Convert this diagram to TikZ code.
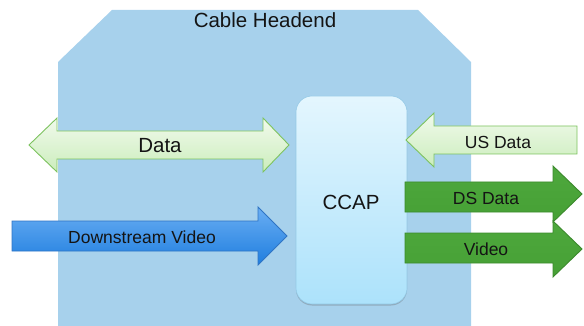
\documentclass[tikz,border=0pt]{standalone}
\usepackage{fontspec}
\setmainfont{Liberation Sans}
\usetikzlibrary{shadows}
\definecolor{headend}{HTML}{A7D1EC}
\definecolor{ccaptop}{HTML}{E4F6FE}
\definecolor{ccapbot}{HTML}{ACE2FB}
\definecolor{ccapline}{HTML}{94C9E6}
\definecolor{ltgreentop}{HTML}{F1FAEC}
\definecolor{ltgreenbot}{HTML}{CBEDBC}
\definecolor{ltgreenline}{HTML}{7DC35F}
\definecolor{dkgreen}{HTML}{4EA83D}
\definecolor{dkgreenbot}{HTML}{46A035}
\definecolor{dkgreenline}{HTML}{3B8A2C}
\definecolor{bluetop}{HTML}{6AAEF3}
\definecolor{bluebot}{HTML}{1F7EDF}
\definecolor{blueline}{HTML}{2F74C4}
\definecolor{txt}{HTML}{141414}
\tikzset{
  lightarrow/.style={draw=ltgreenline, line width=0.9pt, top color=ltgreentop, bottom color=ltgreenbot, line join=miter},
  darkarrow/.style={draw=dkgreenline, line width=0.9pt, top color=dkgreen, bottom color=dkgreenbot, line join=miter},
  bluearrow/.style={draw=blueline, line width=0.9pt, top color=bluetop, bottom color=bluebot, line join=miter},
  label/.style={text=txt, inner sep=0pt, font=\fontsize{17.5}{20}\selectfont},
  biglabel/.style={text=txt, inner sep=0pt, font=\fontsize{20.5}{24}\selectfont},
}
\begin{document}
\begin{tikzpicture}[x=1pt, y=-1pt]
  \useasboundingbox (0,0) rectangle (584,326);
  \begin{scope}
    \clip (0,0) rectangle (584,326);
    % headend enclosure
    \fill[headend] (58,340) -- (58,62) -- (112,10) -- (418,10) -- (471,62) -- (471,340) -- cycle;
  \end{scope}
  \node[text=txt, inner sep=0pt, font=\fontsize{20.5}{24}\selectfont] (headend) at (265,20) {Cable Headend};

  % CCAP block
  \node[draw=ccapline, line width=0.6pt, rounded corners=16pt, top color=ccaptop, bottom color=ccapbot,
        minimum width=111pt, minimum height=208pt, inner sep=0pt,
        drop shadow={shadow xshift=0pt, shadow yshift=-1.5pt, opacity=0.35, fill=black!60}] (ccap) at (351.5,200) {};
  \node[biglabel] (ccaptxt) at (351,202) {CCAP};

  % bidirectional data
  \path[lightarrow] (29,145) -- (57,118) -- (57,131) -- (263,131) -- (263,118) -- (289,145)
        -- (263,172) -- (263,159) -- (57,159) -- (57,172) -- cycle;
  \node[biglabel] (data) at (160,146) {Data};

  % downstream video in
  \path[bluearrow] (12,221) -- (258,221) -- (258,207) -- (287,236) -- (258,265) -- (258,251) -- (12,251) -- cycle;
  \node[label] (dsvideo) at (142,237) {Downstream Video};

  % upstream data in
  \path[lightarrow] (577,126) -- (434,126) -- (434,113) -- (406,140) -- (434,167) -- (434,154) -- (577,154) -- cycle;
  \node[label] (usdata) at (498,142) {US Data};

  % downstream data out
  \path[darkarrow] (405,182) -- (553,182) -- (553,166) -- (582,194) -- (553,222) -- (553,212) -- (405,212) -- cycle;
  \node[label] (dsdata) at (486,198) {DS Data};

  % video out
  \path[darkarrow] (405,233) -- (553,233) -- (553,221) -- (582,249) -- (553,277) -- (553,263) -- (405,263) -- cycle;
  \node[label] (video) at (486,249) {Video};
\end{tikzpicture}
\end{document}
